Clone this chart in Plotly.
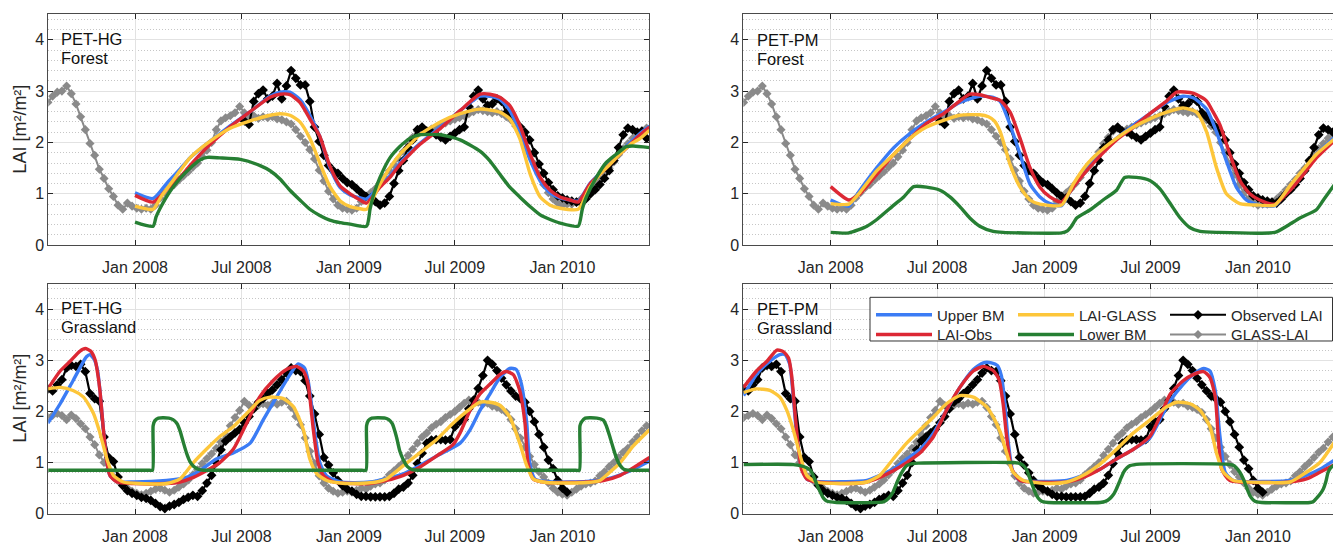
import pandas as pd
import plotly.graph_objects as go

BASE = pd.Timestamp("2008-01-01")

TICK_DATES = ["2008-01-01", "2008-07-01", "2009-01-01", "2009-07-01", "2010-01-01"]
TICK_LABELS = ["Jan 2008", "Jul 2008", "Jan 2009", "Jul 2009", "Jan 2010"]
Y_TICKS = [0, 1, 2, 3, 4]

# 8-day products (day offsets from 2008-01-01 of first value, then every 8 days)
STEP8 = 8
GLASS_FOREST_START = -149
GLASS_FOREST = [2.78, 2.90, 2.98, 3.00, 3.10, 2.95, 2.75, 2.50, 2.25, 1.98, 1.75, 1.48, 1.30, 1.10,
                0.95, 0.78, 0.70, 0.82, 0.76, 0.72, 0.70, 0.72, 0.70, 0.78, 0.92, 1.02, 1.12, 1.18,
                1.27, 1.35, 1.43, 1.52, 1.60, 1.72, 1.85, 2.00, 2.25, 2.42, 2.48, 2.52, 2.58, 2.70,
                2.58, 2.50, 2.52, 2.47, 2.50, 2.48, 2.50, 2.46, 2.44, 2.40, 2.36, 2.25, 2.12, 2.00,
                1.86, 1.68, 1.46, 1.25, 1.05, 0.90, 0.78, 0.72, 0.70, 0.68, 0.72, 0.85, 0.95, 1.02,
                1.10, 1.20, 1.32, 1.45, 1.56, 1.68, 1.82, 1.98, 2.10, 2.22, 2.28, 2.22, 2.26, 2.30,
                2.34, 2.38, 2.42, 2.45, 2.48, 2.52, 2.56, 2.60, 2.64, 2.62, 2.60, 2.58, 2.60, 2.56,
                2.50, 2.44, 2.32, 2.20, 2.00, 1.80, 1.58, 1.38, 1.18, 1.02, 0.90, 0.82, 0.78, 0.80,
                0.80, 0.84, 0.90, 0.98, 1.08, 1.18, 1.28, 1.40, 1.50, 1.62, 1.76, 1.88, 1.98, 2.08,
                2.16, 2.22, 2.28]
OBS_FOREST_START = 187
OBS_FOREST = [2.42, 2.35, 2.80, 2.95, 3.02, 2.85, 2.90, 3.15, 2.85, 3.10, 3.40, 3.25, 3.12, 3.12,
              2.80, 2.30, 2.02, 1.75, 1.55, 1.45, 1.40, 1.30, 1.22, 1.18, 1.10, 1.02, 0.95, 0.92,
              0.85, 0.78, 0.82, 0.95, 1.20, 1.45, 1.65, 1.90, 2.05, 2.25, 2.30, 2.22, 2.20, 2.15,
              2.10, 2.05, 2.12, 2.18, 2.25, 2.30, 2.70, 2.90, 3.02, 2.85, 2.72, 2.75, 2.85, 2.80,
              2.58, 2.50, 2.40, 2.30, 2.20, 2.05, 1.80, 1.58, 1.40, 1.22, 1.08, 0.96, 0.92, 0.88,
              0.86, 0.84, 0.82, 0.90, 1.00, 1.08, 1.18, 1.30, 1.45, 1.65, 1.90, 2.15, 2.28, 2.25,
              2.20, 2.22, 2.08]
GLASS_GRASS_START = -149
GLASS_GRASS = [1.88, 1.92, 1.96, 1.92, 1.84, 1.93, 1.86, 1.76, 1.66, 1.50, 1.35, 1.15, 1.00, 0.86,
               0.72, 0.64, 0.56, 0.50, 0.44, 0.40, 0.37, 0.40, 0.44, 0.48, 0.50, 0.46, 0.42, 0.46,
               0.52, 0.58, 0.66, 0.76, 0.86, 0.98, 1.08, 1.17, 1.28, 1.40, 1.55, 1.72, 1.88, 2.02,
               2.20, 2.12, 2.08, 2.12, 2.15, 2.12, 2.16, 2.14, 2.18, 2.20, 2.08, 1.90, 1.74, 1.48,
               1.22, 0.98, 0.74, 0.60, 0.50, 0.44, 0.40, 0.42, 0.44, 0.42, 0.46, 0.50, 0.48, 0.54,
               0.58, 0.60, 0.66, 0.76, 0.84, 0.92, 1.00, 1.14, 1.26, 1.38, 1.50, 1.58, 1.68, 1.75,
               1.80, 1.88, 1.94, 2.00, 2.08, 2.16, 2.22, 2.20, 2.18, 2.14, 2.16, 2.10, 2.08, 2.04,
               1.98, 1.84, 1.66, 1.48, 1.30, 1.12, 0.96, 0.82, 0.72, 0.60, 0.50, 0.42, 0.38, 0.36,
               0.42, 0.48, 0.54, 0.58, 0.60, 0.64, 0.74, 0.82, 0.92, 1.00, 1.10, 1.20, 1.28, 1.40,
               1.50, 1.62, 1.72]
OBS_GRASS_START = -149
OBS_GRASS = [2.44, 2.40, 2.52, 2.62, 2.85, 2.90, 2.88, 2.92, 2.78, 2.35, 2.25, 2.20, 1.50, 1.10,
             1.02, 0.72, 0.55, 0.45, 0.40, 0.36, 0.32, 0.30, 0.26, 0.20, 0.14, 0.10, 0.15, 0.18,
             0.22, 0.28, 0.32, 0.36, 0.34, 0.45, 0.60, 0.75, 1.00, 1.25, 1.42, 1.50, 1.58, 1.65,
             1.78, 1.90, 2.05, 2.18, 2.25, 2.35, 2.42, 2.52, 2.62, 2.75, 2.85, 2.80, 2.78, 2.60,
             2.30, 1.95, 1.55, 1.10, 0.95, 0.80, 0.65, 0.55, 0.48, 0.44, 0.38, 0.34, 0.34, 0.33,
             0.33, 0.33, 0.33, 0.34, 0.40, 0.48, 0.52, 0.60, 0.75, 0.98, 1.18, 1.38, 1.44, 1.45,
             1.45, 1.44, 1.45, 1.70, 1.80, 1.84, 2.05, 2.22, 2.45, 2.70, 3.00, 2.92, 2.80, 2.65,
             2.52, 2.40, 2.30, 2.25, 2.18, 2.00, 1.80, 1.55, 1.30, 1.05, 0.88, 0.65, 0.50, 0.42]

# Model series: (day offset from 2008-01-01, LAI)
HGF_UPPER = [(0, 1.02), (31, 0.91), (54, 1.20), (77, 1.48), (94, 1.70), (104, 1.80), (128, 2.02),
             (162, 2.32), (197, 2.60), (231, 2.90), (248, 2.98), (265, 2.98), (282, 2.84), (299, 2.53),
             (316, 2.12), (333, 1.52), (351, 1.12), (368, 0.98), (385, 0.92), (396, 0.90), (419, 1.15),
             (436, 1.35), (453, 1.60), (470, 1.80), (487, 1.98), (522, 2.30), (556, 2.62), (590, 2.90),
             (607, 2.90), (624, 2.84), (641, 2.62), (658, 2.20), (676, 1.65), (693, 1.25), (710, 1.02),
             (727, 0.92), (744, 0.88), (758, 0.86), (778, 1.20), (795, 1.40), (812, 1.60), (829, 1.80),
             (847, 2.00), (864, 2.18), (880, 2.32)]
HGF_OBS = [(0, 0.97), (31, 0.84), (54, 1.08), (77, 1.32), (94, 1.55), (128, 1.96), (162, 2.30),
           (197, 2.60), (231, 2.88), (248, 2.94), (265, 2.93), (282, 2.78), (299, 2.46), (316, 2.12),
           (333, 1.55), (351, 1.15), (368, 1.00), (385, 0.88), (396, 0.82), (419, 1.13), (436, 1.32),
           (453, 1.57), (470, 1.77), (487, 1.96), (522, 2.27), (556, 2.62), (590, 2.94), (607, 2.94),
           (624, 2.88), (641, 2.72), (658, 2.34), (676, 1.77), (693, 1.32), (710, 1.07), (727, 0.94),
           (744, 0.88), (758, 0.84), (778, 1.19), (795, 1.38), (812, 1.57), (829, 1.77), (847, 1.96),
           (864, 2.15), (880, 2.30)]
HGF_GLASS = [(0, 0.76), (31, 0.70), (45, 0.95), (60, 1.18), (77, 1.45), (94, 1.70), (128, 2.02),
             (162, 2.27), (197, 2.42), (231, 2.53), (248, 2.56), (265, 2.53), (282, 2.40), (299, 2.08),
             (316, 1.60), (333, 1.15), (351, 0.86), (368, 0.75), (385, 0.71), (396, 0.70), (419, 1.19),
             (436, 1.51), (453, 1.77), (470, 1.96), (487, 2.15), (522, 2.40), (556, 2.56), (590, 2.65),
             (624, 2.59), (641, 2.46), (658, 2.08), (676, 1.38), (693, 0.94), (710, 0.78), (727, 0.72),
             (758, 0.70), (778, 1.13), (795, 1.38), (812, 1.57), (829, 1.77), (847, 1.96), (864, 2.08),
             (880, 2.24)]
HGF_LOWER = [(0, 0.45), (31, 0.37), (36, 0.55), (43, 0.72), (60, 1.05), (77, 1.30), (94, 1.50),
             (111, 1.66), (124, 1.71), (145, 1.70), (180, 1.67), (214, 1.55), (231, 1.45), (248, 1.29),
             (265, 1.07), (282, 0.88), (299, 0.70), (316, 0.58), (333, 0.49), (351, 0.44), (368, 0.41),
             (396, 0.37), (402, 0.70), (408, 0.98), (419, 1.32), (436, 1.70), (453, 1.92), (470, 2.08),
             (487, 2.15), (522, 2.15), (556, 2.05), (590, 1.83), (607, 1.64), (624, 1.38), (641, 1.13),
             (658, 0.94), (676, 0.75), (693, 0.59), (710, 0.50), (727, 0.43), (758, 0.37), (765, 0.70),
             (772, 0.94), (789, 1.32), (806, 1.61), (823, 1.77), (840, 1.92), (852, 1.93), (880, 1.90)]

PMF_UPPER = [(0, 0.88), (31, 0.76), (50, 1.07), (79, 1.51), (108, 1.90), (136, 2.18), (164, 2.40),
             (193, 2.59), (221, 2.78), (255, 2.90), (278, 2.88), (290, 2.80), (307, 2.34), (324, 1.77),
             (341, 1.19), (358, 0.94), (375, 0.81), (395, 0.77), (415, 1.16), (438, 1.51), (461, 1.80),
             (489, 2.08), (518, 2.34), (546, 2.56), (575, 2.78), (603, 2.90), (620, 2.87), (643, 2.65),
             (660, 2.21), (677, 1.64), (694, 1.13), (711, 0.88), (734, 0.78), (760, 0.77), (786, 1.13),
             (809, 1.45), (831, 1.77), (862, 2.10)]
PMF_OBS = [(0, 1.14), (31, 0.88), (50, 1.00), (79, 1.38), (108, 1.77), (136, 2.08), (164, 2.37),
           (193, 2.56), (221, 2.81), (238, 2.94), (255, 2.93), (278, 2.86), (290, 2.82), (307, 2.59),
           (324, 2.08), (341, 1.51), (358, 1.13), (375, 0.94), (395, 0.84), (415, 1.13), (438, 1.45),
           (461, 1.74), (489, 2.05), (518, 2.30), (546, 2.56), (575, 2.81), (592, 2.98), (620, 2.96),
           (643, 2.81), (654, 2.60), (666, 2.34), (683, 1.77), (700, 1.26), (717, 1.00), (734, 0.88),
           (760, 0.80), (786, 1.07), (809, 1.38), (831, 1.70), (862, 2.04)]
PMF_GLASS = [(0, 0.81), (31, 0.80), (50, 1.03), (79, 1.45), (108, 1.77), (136, 2.08), (164, 2.30),
             (193, 2.43), (221, 2.53), (255, 2.54), (270, 2.50), (280, 2.42), (290, 2.21), (307, 1.57),
             (324, 1.13), (341, 0.88), (358, 0.80), (395, 0.78), (415, 1.19), (438, 1.57), (461, 1.83),
             (489, 2.08), (518, 2.30), (546, 2.46), (575, 2.59), (603, 2.67), (626, 2.59), (643, 2.21),
             (660, 1.51), (677, 1.00), (700, 0.81), (734, 0.78), (760, 0.78), (786, 1.16), (809, 1.48),
             (831, 1.77), (862, 2.07)]
PMF_LOWER = [(0, 0.25), (31, 0.24), (62, 0.37), (79, 0.50), (108, 0.78), (125, 0.94), (142, 1.14),
             (164, 1.13), (187, 1.07), (204, 0.94), (221, 0.75), (238, 0.53), (255, 0.37), (278, 0.27),
             (295, 0.25), (395, 0.24), (405, 0.28), (412, 0.37), (421, 0.53), (444, 0.69), (466, 0.88),
             (489, 1.07), (503, 1.32), (523, 1.32), (546, 1.26), (563, 1.10), (581, 0.81), (598, 0.53),
             (615, 0.34), (632, 0.27), (660, 0.25), (760, 0.25), (780, 0.37), (803, 0.53), (831, 0.69),
             (843, 0.88), (862, 1.18)]

HGG_UPPER = [(-149, 1.77), (-128, 2.15), (-106, 2.60), (-83, 3.07), (-77, 3.11), (-70, 3.02),
             (-64, 2.80), (-60, 2.41), (-54, 1.64), (-48, 1.00), (-43, 0.75), (-31, 0.63), (-3, 0.62),
             (54, 0.65), (88, 0.71), (111, 0.84), (139, 1.07), (168, 1.19), (197, 1.38), (219, 1.83),
             (242, 2.28), (265, 2.72), (279, 2.93), (290, 2.85), (296, 2.60), (300, 2.30), (307, 1.64),
             (316, 1.00), (327, 0.75), (351, 0.62), (402, 0.62), (459, 0.78), (487, 0.94), (516, 1.13),
             (556, 1.38), (573, 1.64), (590, 2.02), (607, 2.34), (624, 2.66), (641, 2.84), (652, 2.82),
             (661, 2.53), (670, 1.77), (675, 1.00), (684, 0.68), (715, 0.62), (773, 0.63), (807, 0.68),
             (841, 0.81), (880, 1.03)]
HGG_OBS = [(-149, 2.44), (-128, 2.79), (-111, 2.98), (-94, 3.18), (-85, 3.23), (-76, 3.18),
           (-68, 3.00), (-64, 2.75), (-60, 2.41), (-54, 1.64), (-48, 1.00), (-43, 0.75), (-31, 0.62),
           (-3, 0.59), (54, 0.59), (77, 0.62), (100, 0.71), (122, 0.84), (145, 1.00), (168, 1.26),
           (191, 1.77), (213, 2.28), (236, 2.60), (259, 2.82), (276, 2.88), (288, 2.79), (296, 2.53),
           (305, 1.64), (313, 1.00), (322, 0.75), (339, 0.62), (373, 0.59), (402, 0.59), (430, 0.65),
           (459, 0.75), (487, 0.91), (516, 1.13), (544, 1.35), (556, 1.58), (573, 2.02), (590, 2.34),
           (607, 2.53), (624, 2.72), (635, 2.78), (647, 2.72), (658, 2.41), (667, 1.77), (672, 1.00),
           (681, 0.68), (704, 0.61), (744, 0.61), (773, 0.62), (801, 0.65), (830, 0.75), (858, 0.94),
           (880, 1.10)]
HGG_GLASS = [(-149, 2.44), (-128, 2.47), (-106, 2.41), (-88, 2.28), (-71, 1.96), (-60, 1.58),
             (-48, 1.07), (-37, 0.75), (-20, 0.62), (8, 0.59), (54, 0.59), (77, 0.68), (100, 1.00),
             (122, 1.26), (145, 1.51), (168, 1.70), (191, 1.96), (213, 2.21), (231, 2.28), (254, 2.25),
             (271, 2.09), (288, 1.64), (299, 1.07), (311, 0.78), (328, 0.65), (351, 0.60), (373, 0.59),
             (413, 0.62), (430, 0.68), (459, 0.94), (487, 1.19), (516, 1.45), (544, 1.77), (573, 2.05),
             (590, 2.18), (607, 2.18), (624, 2.12), (641, 1.89), (658, 1.38), (670, 0.94), (681, 0.68),
             (704, 0.61), (773, 0.61), (795, 0.65), (812, 0.81), (830, 1.00), (852, 1.32), (880, 1.64)]
HGG_LOWER = [(-149, 0.85), (-140, 0.85), (25, 0.85), (30, 0.85), (31, 1.72), (34, 1.82), (40, 1.87),
             (58, 1.87), (65, 1.84), (72, 1.76), (77, 1.62), (83, 1.38), (88, 1.19), (94, 1.02),
             (100, 0.93), (108, 0.87), (118, 0.85), (125, 0.85), (388, 0.85), (395, 0.85), (396, 1.72),
             (399, 1.82), (405, 1.87), (428, 1.87), (434, 1.84), (440, 1.76), (447, 1.51), (453, 1.22),
             (459, 1.05), (466, 0.92), (474, 0.86), (485, 0.85), (492, 0.85), (754, 0.85), (760, 0.85),
             (761, 1.72), (764, 1.80), (770, 1.87), (790, 1.87), (801, 1.83), (806, 1.72), (812, 1.51),
             (818, 1.28), (824, 1.07), (830, 0.94), (836, 0.87), (847, 0.85), (855, 0.85), (880, 0.85)]

PMG_UPPER = [(-149, 2.31), (-127, 2.72), (-104, 2.98), (-87, 3.11), (-78, 3.11), (-70, 2.92),
             (-64, 2.28), (-58, 1.51), (-50, 0.94), (-41, 0.68), (-24, 0.63), (62, 0.65), (84, 0.75),
             (107, 0.87), (130, 1.07), (153, 1.26), (176, 1.58), (198, 2.02), (221, 2.47), (244, 2.82),
             (261, 2.95), (275, 2.95), (285, 2.90), (292, 2.70), (298, 2.15), (304, 1.38), (312, 0.81),
             (324, 0.65), (347, 0.63), (404, 0.65), (432, 0.75), (461, 0.87), (489, 1.07), (518, 1.26),
             (546, 1.48), (563, 1.83), (581, 2.21), (603, 2.53), (620, 2.72), (638, 2.84), (649, 2.79),
             (658, 2.41), (666, 1.51), (675, 0.81), (689, 0.65), (746, 0.63), (786, 0.65), (814, 0.75),
             (837, 0.87), (862, 1.05)]
PMG_OBS = [(-149, 2.47), (-127, 2.79), (-109, 2.98), (-92, 3.20), (-81, 3.17), (-72, 3.04),
           (-67, 2.72), (-61, 1.96), (-55, 1.26), (-50, 0.87), (-41, 0.68), (-24, 0.62), (22, 0.59),
           (62, 0.62), (84, 0.71), (107, 0.84), (130, 1.00), (153, 1.19), (176, 1.51), (198, 2.02),
           (221, 2.47), (244, 2.79), (261, 2.88), (278, 2.80), (288, 2.62), (295, 2.15), (301, 1.51),
           (310, 0.87), (324, 0.65), (347, 0.62), (404, 0.62), (432, 0.71), (461, 0.87), (489, 1.07),
           (518, 1.26), (546, 1.51), (563, 1.89), (581, 2.34), (603, 2.60), (620, 2.72), (638, 2.78),
           (649, 2.66), (658, 2.28), (663, 1.51), (669, 0.87), (683, 0.65), (746, 0.61), (786, 0.62),
           (814, 0.68), (837, 0.81), (862, 0.96)]
PMG_GLASS = [(-149, 2.37), (-127, 2.44), (-104, 2.41), (-87, 2.28), (-75, 2.02), (-64, 1.64),
             (-52, 1.13), (-41, 0.75), (-24, 0.62), (27, 0.59), (62, 0.62), (84, 0.75), (107, 1.07),
             (130, 1.38), (153, 1.64), (176, 1.89), (198, 2.15), (221, 2.31), (244, 2.28), (267, 2.09),
             (280, 1.85), (290, 1.60), (301, 1.19), (312, 0.81), (330, 0.65), (375, 0.59), (404, 0.62),
             (432, 0.75), (461, 0.97), (489, 1.26), (518, 1.58), (546, 1.83), (575, 2.09), (592, 2.18),
             (615, 2.15), (632, 2.02), (649, 1.70), (660, 1.19), (672, 0.81), (689, 0.65), (746, 0.61),
             (786, 0.62), (814, 0.81), (837, 1.00), (862, 1.40)]
PMG_LOWER = [(-149, 0.96), (-64, 0.96), (-41, 0.90), (-35, 0.85), (-30, 0.75), (-24, 0.58),
             (-18, 0.43), (-12, 0.30), (-7, 0.25), (0, 0.23), (10, 0.22), (90, 0.23), (96, 0.27),
             (102, 0.34), (107, 0.43), (113, 0.60), (119, 0.75), (125, 0.87), (130, 0.94), (140, 0.98),
             (150, 0.99), (312, 1.00), (324, 0.98), (330, 0.94), (336, 0.84), (341, 0.68), (347, 0.50),
             (352, 0.36), (358, 0.27), (364, 0.23), (372, 0.22), (461, 0.22), (470, 0.24), (478, 0.30),
             (484, 0.38), (489, 0.49), (495, 0.65), (501, 0.81), (507, 0.90), (512, 0.94), (529, 0.97),
             (677, 0.97), (688, 0.95), (694, 0.90), (700, 0.81), (706, 0.68), (712, 0.50), (717, 0.36),
             (723, 0.27), (729, 0.23), (737, 0.22), (820, 0.22), (826, 0.24), (831, 0.30), (837, 0.38),
             (843, 0.49), (847, 0.62), (851, 0.81), (855, 0.89), (862, 0.96)]

NAMES = ["Upper BM", "LAI-Obs", "LAI-GLASS", "Lower BM", "Observed LAI", "GLASS-LAI"]
COLORS = {"Upper BM": "#3b7cf5", "LAI-Obs": "#dc2834", "LAI-GLASS": "#fdc63a",
          "Lower BM": "#267f33", "Observed LAI": "#000000", "GLASS-LAI": "#8a8a8a"}
LEGEND_OF = {"Upper BM": "legend", "LAI-Obs": "legend2", "LAI-GLASS": "legend3",
             "Lower BM": "legend4", "Observed LAI": "legend5", "GLASS-LAI": "legend6"}

PANELS = [
    {"ax": "", "title": ["PET-HG", "Forest"], "glass": (GLASS_FOREST_START, GLASS_FOREST),
     "obs": (OBS_FOREST_START, OBS_FOREST), "models": [HGF_UPPER, HGF_OBS, HGF_GLASS, HGF_LOWER]},
    {"ax": "2", "title": ["PET-PM", "Forest"], "glass": (GLASS_FOREST_START, GLASS_FOREST),
     "obs": (OBS_FOREST_START, OBS_FOREST), "models": [PMF_UPPER, PMF_OBS, PMF_GLASS, PMF_LOWER]},
    {"ax": "3", "title": ["PET-HG", "Grassland"], "glass": (GLASS_GRASS_START, GLASS_GRASS),
     "obs": (OBS_GRASS_START, OBS_GRASS), "models": [HGG_UPPER, HGG_OBS, HGG_GLASS, HGG_LOWER]},
    {"ax": "4", "title": ["PET-PM", "Grassland"], "glass": (GLASS_GRASS_START, GLASS_GRASS),
     "obs": (OBS_GRASS_START, OBS_GRASS), "models": [PMG_UPPER, PMG_OBS, PMG_GLASS, PMG_LOWER]},
]

W, H = 1333, 547
FONT = "Liberation Sans, Arial, Helvetica, sans-serif"
TXT = "#262626"


def to_dates(days):
    return [BASE + pd.Timedelta(days=float(d)) for d in days]


def eight_day(start, values):
    return to_dates([start + STEP8 * i for i in range(len(values))]), values


fig = go.Figure()
for pi, p in enumerate(PANELS):
    xa, ya = "x" + p["ax"], "y" + p["ax"]
    legend_panel = (pi == 3)
    gx, gy = eight_day(*p["glass"])
    fig.add_trace(go.Scatter(x=gx, y=gy, mode="lines+markers", name="GLASS-LAI",
                             line=dict(color=COLORS["GLASS-LAI"], width=2),
                             marker=dict(symbol="diamond", size=7, color=COLORS["GLASS-LAI"]),
                             xaxis=xa, yaxis=ya, showlegend=legend_panel,
                             legend=LEGEND_OF["GLASS-LAI"]))
    ox, oy = eight_day(*p["obs"])
    fig.add_trace(go.Scatter(x=ox, y=oy, mode="lines+markers", name="Observed LAI",
                             line=dict(color=COLORS["Observed LAI"], width=2.2),
                             marker=dict(symbol="diamond", size=7.5, color=COLORS["Observed LAI"]),
                             xaxis=xa, yaxis=ya, showlegend=legend_panel,
                             legend=LEGEND_OF["Observed LAI"]))
    for name, series in zip(NAMES[:4], p["models"]):
        d = [s[0] for s in series]
        v = [s[1] for s in series]
        fig.add_trace(go.Scatter(x=to_dates(d), y=v, mode="lines", name=name,
                                 line=dict(color=COLORS[name], width=3.4, shape="spline", smoothing=0.6),
                                 xaxis=xa, yaxis=ya, showlegend=legend_panel,
                                 legend=LEGEND_OF[name]))

# geometry (pixels)
LEFT_X = (48.3, 649.3)
RIGHT_X = (743.3, 1333.0)
TOP_Y = (14.3, 249.3)
BOT_Y = (288.3, 522.3)
LEFT_RANGE = (-148.3, 879.6)
RIGHT_RANGE = (-149.5, 859.4)


def xdom(px):
    return [px[0] / W, px[1] / W]


def ydom(py):
    return [1 - py[1] / H, 1 - py[0] / H]


def xaxis(px, rng, anchor):
    return dict(domain=xdom(px), anchor=anchor, type="date",
                range=[BASE + pd.Timedelta(days=rng[0]), BASE + pd.Timedelta(days=rng[1])],
                tickvals=TICK_DATES, ticktext=TICK_LABELS,
                showgrid=True, gridcolor="#e2e2e2", gridwidth=1,
                ticks="inside", ticklen=5, tickcolor=TXT, tickwidth=1, ticklabelstandoff=8,
                showline=True, linecolor="#4a4a4a", linewidth=1, mirror="ticks",
                tickfont=dict(family=FONT, size=16, color=TXT), zeroline=False)


def yaxis(py, anchor, mirror):
    return dict(domain=ydom(py), anchor=anchor, range=[0, 4.5], tickvals=Y_TICKS,
                showgrid=True, gridcolor="#e2e2e2", gridwidth=1,
                minor=dict(dtick=0.2, tick0=0, showgrid=True, gridcolor="#c6c6c6",
                           griddash="1px,2px", gridwidth=1, ticks=""),
                ticks="inside", ticklen=5, tickcolor=TXT, tickwidth=1,
                showline=True, linecolor="#4a4a4a", linewidth=1, mirror=mirror,
                tickfont=dict(family=FONT, size=16, color=TXT), zeroline=False)


layout = dict(
    width=W, height=H, margin=dict(l=0, r=0, t=0, b=0),
    paper_bgcolor="white", plot_bgcolor="white",
    font=dict(family=FONT, color=TXT),
    xaxis=xaxis(LEFT_X, LEFT_RANGE, "y"), yaxis=yaxis(TOP_Y, "x", "ticks"),
    xaxis2=xaxis(RIGHT_X, RIGHT_RANGE, "y2"), yaxis2=yaxis(TOP_Y, "x2", False),
    xaxis3=xaxis(LEFT_X, LEFT_RANGE, "y3"), yaxis3=yaxis(BOT_Y, "x3", "ticks"),
    xaxis4=xaxis(RIGHT_X, RIGHT_RANGE, "y4"), yaxis4=yaxis(BOT_Y, "x4", False),
)

# legends: 3 columns x 2 rows
LEG_COL_X = [871, 1013, 1165]
LEG_ROW_TOP = [303.5, 323.5]
leg_pos = {"legend": (0, 0), "legend2": (0, 1), "legend3": (1, 0),
           "legend4": (1, 1), "legend5": (2, 0), "legend6": (2, 1)}
for key, (c, r) in leg_pos.items():
    layout[key] = dict(x=LEG_COL_X[c] / W, y=1 - LEG_ROW_TOP[r] / H, xanchor="left", yanchor="top",
                       bgcolor="rgba(0,0,0,0)", borderwidth=0, itemwidth=56,
                       font=dict(family=FONT, size=15, color=TXT))

fig.update_layout(**layout)

fig.add_shape(type="rect", xref="paper", yref="paper",
              x0=870 / W, x1=1332.5 / W, y0=1 - 346.7 / H, y1=1 - 302.3 / H,
              line=dict(color="#333333", width=1), fillcolor="white", layer="above")

# panel labels (two stacked lines)
label_pos = [(60, 40.0, 59.0), (755.7, 40.5, 59.5), (60, 313.5, 332.5), (755.7, 314.0, 333.0)]
for p, (lx, y1, y2) in zip(PANELS, label_pos):
    for txt, yy in zip(p["title"], (y1, y2)):
        fig.add_annotation(text=txt, xref="paper", yref="paper", x=lx / W, y=1 - yy / H,
                           xanchor="left", yanchor="middle", showarrow=False,
                           font=dict(family=FONT, size=16.5, color="#111111"), borderpad=0)

# y axis titles
for py in (TOP_Y, BOT_Y):
    fig.add_annotation(text="LAI [m²/m²]", xref="paper", yref="paper", x=20 / W,
                       y=1 - (py[0] + py[1]) / 2 / H, xanchor="center", yanchor="middle",
                       textangle=-90, showarrow=False,
                       font=dict(family=FONT, size=18, color=TXT))

fig.write_html("out.html")
